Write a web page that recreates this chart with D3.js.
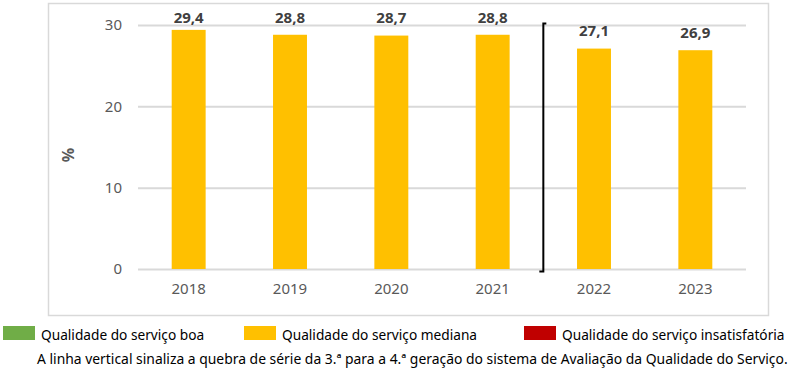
<!DOCTYPE html>
<html>
<head>
<meta charset="utf-8">
<script src="https://cdn.jsdelivr.net/npm/d3@7"></script>
<style>
  body { margin: 0; background: #fff; }
  svg { display: block; font-family: "Noto Sans", "Open Sans", sans-serif; }
</style>
</head>
<body>
<div class="js-chart"></div>
<script>
'use strict';

// chart data
var years = ['2018', '2019', '2020', '2021', '2022', '2023'];
var mediana = [29.4, 28.8, 28.7, 28.8, 27.1, 26.9];
var yTicks = [0, 10, 20, 30];
var breakAfter = '2021';
var legendItems = ['Qualidade do serviço boa', 'Qualidade do serviço mediana', 'Qualidade do serviço insatisfatória'];
var legendColors = ['#70AD47', '#FFC000', '#C00000'];
var footnote = 'A linha vertical sinaliza a quebra de série da 3.ª para a 4.ª geração do sistema de Avaliação da Qualidade do Serviço.';

var W = 804, H = 369;
var svg = d3.select('.js-chart').append('svg')
    .attr('width', W)
    .attr('height', H);

//outer chart frame
svg.append('rect')
    .attr('x', 48.5).attr('y', 3.5)
    .attr('width', 720).attr('height', 312)
    .style('fill', 'none')
    .style('stroke', '#D9D9D9')
    .style('stroke-width', 1.5);

var x = d3.scaleBand().domain(years).range([138, 746])
    .paddingInner(0.665).paddingOuter(0.3325);
var y = d3.scaleLinear().domain([0, 30]).range([269, 25]);

//gridlines + y labels
var yAxis = svg.append('g')
    .attr('transform', 'translate(138,0)')
    .call(d3.axisLeft(y).tickValues(yTicks).tickSize(-608).tickPadding(16));
yAxis.select('.domain').remove();
yAxis.selectAll('line').style('stroke', '#D9D9D9').style('stroke-width', 2);
yAxis.selectAll('text')
    .style('fill', '#595959')
    .style('font-size', '15px')
    .style('font-family', '"Noto Sans", sans-serif');

//x labels
var xAxis = svg.append('g')
    .attr('transform', 'translate(0,269)')
    .call(d3.axisBottom(x).tickSize(0).tickPadding(14));
xAxis.select('.domain').remove();
xAxis.selectAll('text')
    .style('fill', '#595959')
    .style('font-size', '15px')
    .style('font-family', '"Noto Sans", sans-serif');

//bars
svg.selectAll('.js-bar').data(mediana).enter().append('rect')
    .attr('class', 'js-bar')
    .attr('x', function (d, i) { return x(years[i]); })
    .attr('y', function (d) { return y(d); })
    .attr('width', x.bandwidth())
    .attr('height', function (d) { return y(0) - y(d); })
    .style('fill', '#FFC000');

//value labels
svg.selectAll('.js-val').data(mediana).enter().append('text')
    .attr('class', 'js-val')
    .attr('x', function (d, i) { return x(years[i]) + x.bandwidth() / 2; })
    .attr('y', function (d) { return Math.max(y(d) - 12.5, 22.5); })
    .attr('text-anchor', 'middle')
    .style('font-size', '15px')
    .style('font-weight', 'bold')
    .style('fill', '#404040')
    .text(function (d) { return d3.format('.1f')(d).replace('.', ','); });

//series break line
var bx = x(breakAfter) + x.bandwidth() / 2 + x.step() / 2;
svg.append('path')
    .attr('d', 'M' + (bx + 3) + ',' + (y(30) - 1.5) + 'H' + bx + 'V' + (y(0) + 2.5) + 'H' + (bx - 4))
    .style('fill', 'none')
    .style('stroke', '#000')
    .style('stroke-width', 2);

//axis title
svg.append('text')
    .attr('transform', 'translate(74,155) rotate(-90)')
    .attr('text-anchor', 'middle')
    .style('font-size', '16px')
    .style('font-weight', 'bold')
    .style('fill', '#595959')
    .text('%');

//legend
var legendX = [3, 244, 524];
var lg = svg.selectAll('.js-lg').data(legendItems).enter().append('g')
    .attr('class', 'js-lg')
    .attr('transform', function (d, i) { return 'translate(' + legendX[i] + ',326)'; });
lg.append('rect')
    .attr('width', 32).attr('height', 14)
    .style('fill', function (d, i) { return legendColors[i]; });
lg.append('text')
    .attr('x', 38).attr('y', 14)
    .style('font-size', '13.7px')
    .style('fill', '#000')
    .text(function (d) { return d; });

//footnote
svg.append('text')
    .attr('x', 37).attr('y', 364)
    .style('font-size', '13.9px')
    .style('fill', '#000')
    .text(footnote);
</script>
</body>
</html>
